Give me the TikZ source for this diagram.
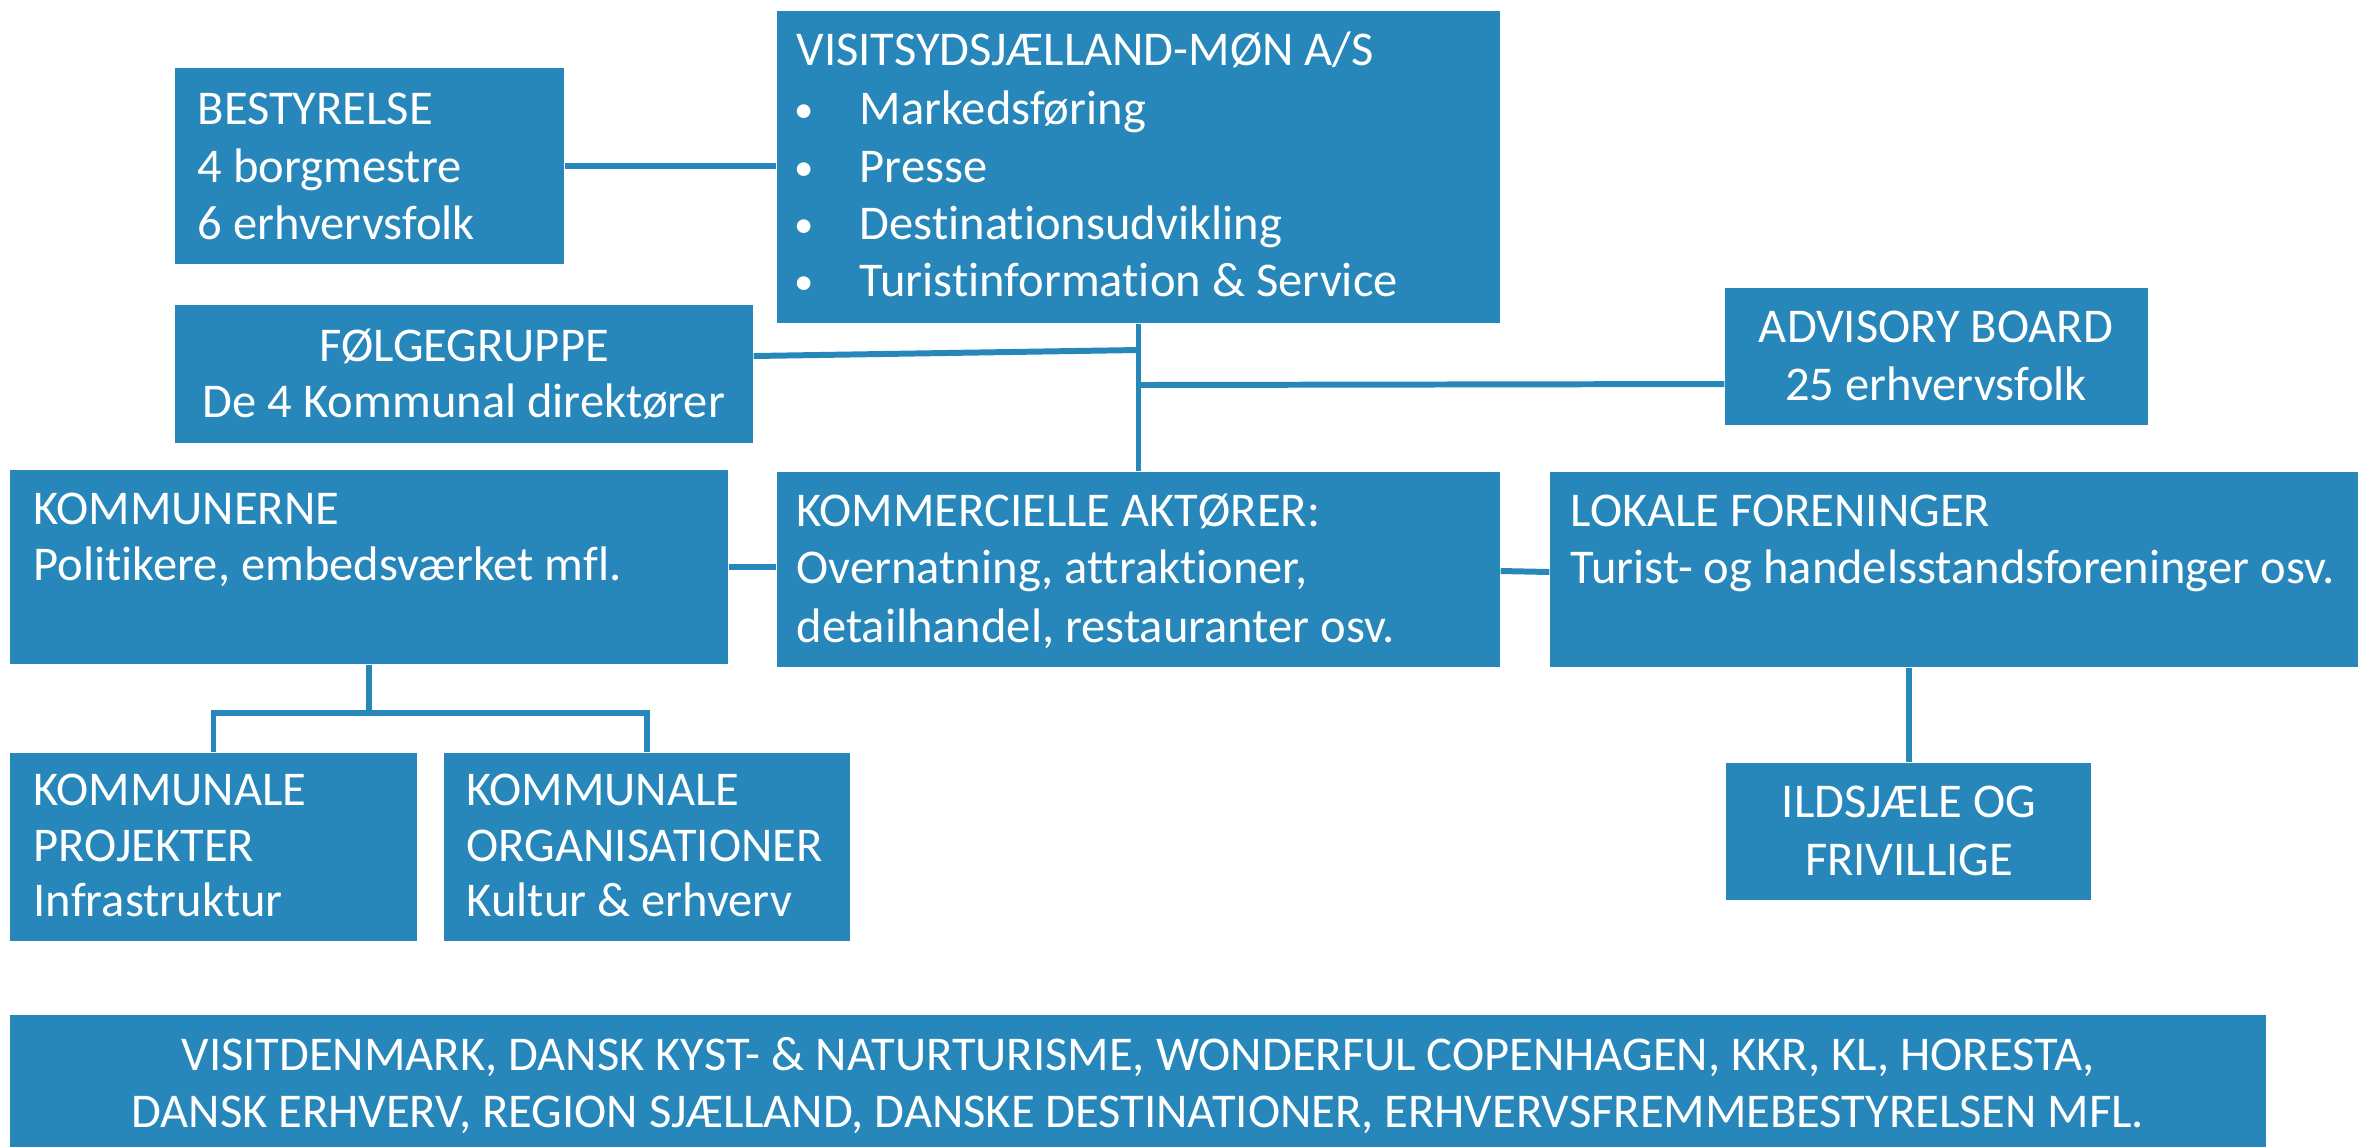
\documentclass[tikz,border=0pt]{standalone}
\usepackage{fontspec}
\setmainfont{Carlito}[Ligatures=NoCommon]
\usetikzlibrary{fit}
\definecolor{orgblue}{HTML}{2787BA}
\begin{document}
\begin{tikzpicture}[x=0.01cm,y=-0.01cm,
  box/.style={fill=orgblue,draw=none,inner sep=0pt,rectangle},
  conn/.style={draw=orgblue,line width=1.7pt},
  txt/.style={text=white,inner sep=0pt,font=\fontsize{13.8}{16}\selectfont},
  lt/.style={txt,anchor=base west},
  ct/.style={txt,anchor=base},
  bul/.style={text=white,inner sep=0pt,anchor=base,font=\fontsize{11}{13}\selectfont}]
\useasboundingbox (0,0) rectangle (2359,1147);
% boxes
\node[box,fit={(175,68) (564,264)}] (bestyr) {};
\node[box,fit={(777,11) (1500,323)}] (visit) {};
\node[box,fit={(175,305) (753,443)}] (folge) {};
\node[box,fit={(1725,288) (2148,425)}] (advis) {};
\node[box,fit={(10,470) (728,664)}] (kommune) {};
\node[box,fit={(777,472) (1500,667)}] (kommerc) {};
\node[box,fit={(1550,472) (2358,667)}] (lokale) {};
\node[box,fit={(10,753) (417,941)}] (projekt) {};
\node[box,fit={(444,753) (850,941)}] (organ) {};
\node[box,fit={(1726,763) (2091,900)}] (ildsj) {};
\node[box,fit={(10,1015) (2266,1147)}] (bund) {};
% texts
\node[lt] (b1) at (197,124) {BESTYRELSE};
\node[lt] (b2) at (197,182) {4 borgmestre};
\node[lt] (b3) at (197,239) {6 erhvervsfolk};
\node[lt] (v0) at (796,65) {VISITSYDSJÆLLAND-MØN A/S};
\node[bul] (vb1) at (804,122) {•};
\node[bul] (vb2) at (804,180) {•};
\node[bul] (vb3) at (804,237) {•};
\node[bul] (vb4) at (804,294) {•};
\node[lt] (v1) at (859,124) {Markedsføring};
\node[lt] (v2) at (859,182) {Presse};
\node[lt] (v3) at (859,239) {Destinationsudvikling};
\node[lt] (v4) at (859,296) {Turistinformation \& Service};
\node[ct] (f1) at (464,361) {FØLGEGRUPPE};
\node[ct] (f2) at (464,417) {De 4 Kommunal direktører};
\node[ct] (a1) at (1936,342) {ADVISORY BOARD};
\node[ct] (a2) at (1936,400) {25 erhvervsfolk};
\node[lt] (k1) at (33,524) {KOMMUNERNE};
\node[lt] (k2) at (33,580) {Politikere, embedsværket mfl.};
\node[lt] (c1) at (796,526) {KOMMERCIELLE AKTØRER:};
\node[lt] (c2) at (796,583) {Overnatning, attraktioner,};
\node[lt] (c3) at (796,642) {detailhandel, restauranter osv.};
\node[lt] (l1) at (1570,526) {LOKALE FORENINGER};
\node[lt] (l2) at (1570,583) {Turist- og handelsstandsforeninger osv.};
\node[lt] (p1) at (33,805) {KOMMUNALE};
\node[lt] (p2) at (33,861) {PROJEKTER};
\node[lt] (p3) at (33,916) {Infrastruktur};
\node[lt] (o1) at (466,805) {KOMMUNALE};
\node[lt] (o2) at (466,861) {ORGANISATIONER};
\node[lt] (o3) at (466,916) {Kultur \& erhverv};
\node[ct] (i1) at (1909,817) {ILDSJÆLE OG};
\node[ct] (i2) at (1909,875) {FRIVILLIGE};
\node[ct] (d1) at (1138,1070) {VISITDENMARK, DANSK KYST- \& NATURTURISME, WONDERFUL COPENHAGEN, KKR, KL, HORESTA,};
\node[ct] (d2) at (1138,1127) {DANSK ERHVERV, REGION SJÆLLAND, DANSKE DESTINATIONER, ERHVERVSFREMMEBESTYRELSEN MFL.};
% connectors
\coordinate (jf) at (1138,350);
\coordinate (ja) at (1138,385);
\draw[conn] (visit.south) -- (kommerc.north -| visit.south);
\draw[conn] (bestyr.east) -- (visit.west |- bestyr.east);
\draw[conn] (folge.east |- 0,356) -- (jf);
\draw[conn] (ja) -- (advis.west |- 0,384);
\draw[conn] (kommune.east) -- (kommerc.west |- kommune.east);
\draw[conn] (kommerc.east |- 0,571) -- (lokale.west |- 0,572);
\draw[conn] (kommune.south) -- (kommune.south |- 0,713) coordinate (jk);
\draw[conn] (projekt.north) |- (jk) -| (organ.north);
\draw[conn] (lokale.south -| ildsj.north) -- (ildsj.north);
\end{tikzpicture}
\end{document}
